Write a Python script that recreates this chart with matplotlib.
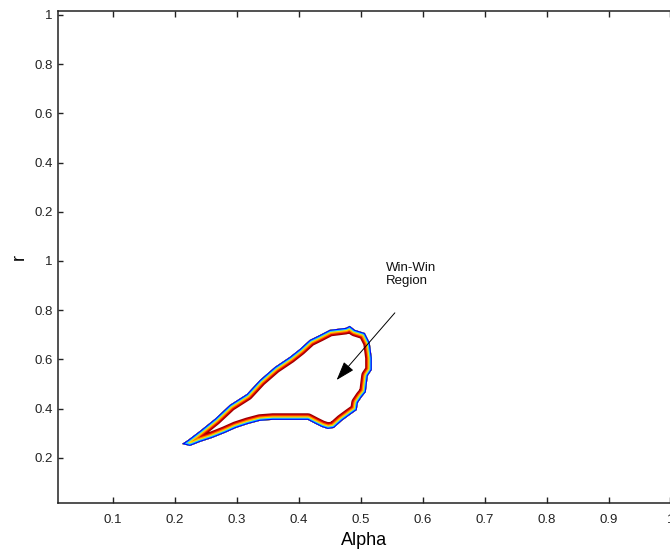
import numpy as np
import matplotlib
matplotlib.use("Agg")
import matplotlib.pyplot as plt
from matplotlib.patches import Polygon

plt.rcParams['font.family'] = ['Liberation Sans', 'DejaVu Sans']

# ---- data -------------------------------------------------------------
# outer boundary of the win-win region (Alpha, r)
alpha_b = [0.2113, 0.2242, 0.2403, 0.2597, 0.2806, 0.2984, 0.3177, 0.3371,
           0.3581, 0.3855, 0.4145, 0.4274, 0.4371, 0.4468, 0.4565, 0.4694,
           0.4823, 0.4935, 0.4952, 0.5016, 0.5081, 0.5113, 0.5177, 0.5177,
           0.5145, 0.5065, 0.4903, 0.4823, 0.4758, 0.4500, 0.4339, 0.4177,
           0.4016, 0.3855, 0.3613, 0.3371, 0.3161, 0.2887, 0.2645, 0.2403,
           0.2210]
r_b = [0.256, 0.248, 0.264, 0.280, 0.301, 0.321, 0.337, 0.350,
       0.354, 0.354, 0.354, 0.337, 0.325, 0.317, 0.321, 0.350,
       0.374, 0.394, 0.423, 0.447, 0.467, 0.533, 0.557, 0.606,
       0.667, 0.707, 0.720, 0.736, 0.728, 0.720, 0.699, 0.679,
       0.642, 0.610, 0.569, 0.516, 0.459, 0.415, 0.358, 0.309,
       0.272]

# contour level colours, innermost -> outermost
level_colors = ['#9a0000', '#e00000', '#ff7a00', '#ffe000', '#20c8ff', '#0000ff']

x_ticks = [0.1, 0.2, 0.3, 0.4, 0.5, 0.6, 0.7, 0.8, 0.9, 1.0]
x_tick_labels = ['0.1', '0.2', '0.3', '0.4', '0.5', '0.6', '0.7', '0.8', '0.9', '1']
y_ticks = [0.2, 0.4, 0.6, 0.8, 1.0, 1.2, 1.4, 1.6, 1.8, 2.0]
y_tick_labels = ['0.2', '0.4', '0.6', '0.8', '1', '0.2', '0.4', '0.6', '0.8', '1']

annot_text = 'Win-Win\nRegion'
arrow_tail = (0.555, 0.789)
arrow_head = (0.461, 0.516)
text_pos = (0.540, 0.995)

# ---- figure -----------------------------------------------------------
fig = plt.figure(figsize=(6.7, 5.5), dpi=100)
ax = fig.add_axes([58 / 670, 47 / 550, 612.5 / 670, 492 / 550])
ax.set_xlim(0.0112, 1.0)
ax.set_ylim(0.016, 2.016)

# region contours (nested levels drawn inside the boundary)
pts = np.column_stack([alpha_b, r_b])
poly = Polygon(pts, closed=True, facecolor='none', edgecolor='none')
ax.add_patch(poly)
xs = np.append(alpha_b, alpha_b[0])
ys = np.append(r_b, r_b[0])
band_px = 1.1
nb = len(level_colors)
for i, c in enumerate(level_colors):
    w_px = 2 * band_px * (nb - i)
    ln, = ax.plot(xs, ys, color=c, lw=w_px * 72 / 100,
                  solid_joinstyle='round', solid_capstyle='round')
    ln.set_clip_path(poly)

# annotation
ax.annotate('', xy=arrow_head, xytext=arrow_tail,
            arrowprops=dict(arrowstyle='-|>,head_length=0.9,head_width=0.3',
                            color='black', lw=0.7, mutation_scale=13,
                            shrinkA=0, shrinkB=0))
ax.text(text_pos[0], text_pos[1], annot_text, ha='left', va='top',
        fontsize=9.5, linespacing=1.05, color='#111111')

# axes styling
ax.set_xticks(x_ticks)
ax.set_xticklabels(x_tick_labels)
ax.set_yticks(y_ticks)
ax.set_yticklabels(y_tick_labels)
ax.tick_params(axis='both', direction='in', labelsize=9.5, width=1.0,
               color='#222222', labelcolor='#222222')
ax.tick_params(axis='x', length=6 * 0.72, pad=8, top=True, labeltop=False)
ax.tick_params(axis='y', length=5 * 0.72, pad=4, right=False)
for s in ['left', 'bottom', 'top']:
    ax.spines[s].set_linewidth(1.1)
    ax.spines[s].set_color('#222222')
ax.spines['right'].set_visible(False)

ax.set_xlabel('Alpha', fontsize=13, labelpad=4)
ax.set_ylabel('r', fontsize=13)
ax.yaxis.set_label_coords(-0.05, 0.5)

fig.savefig('out.png', dpi=100)
